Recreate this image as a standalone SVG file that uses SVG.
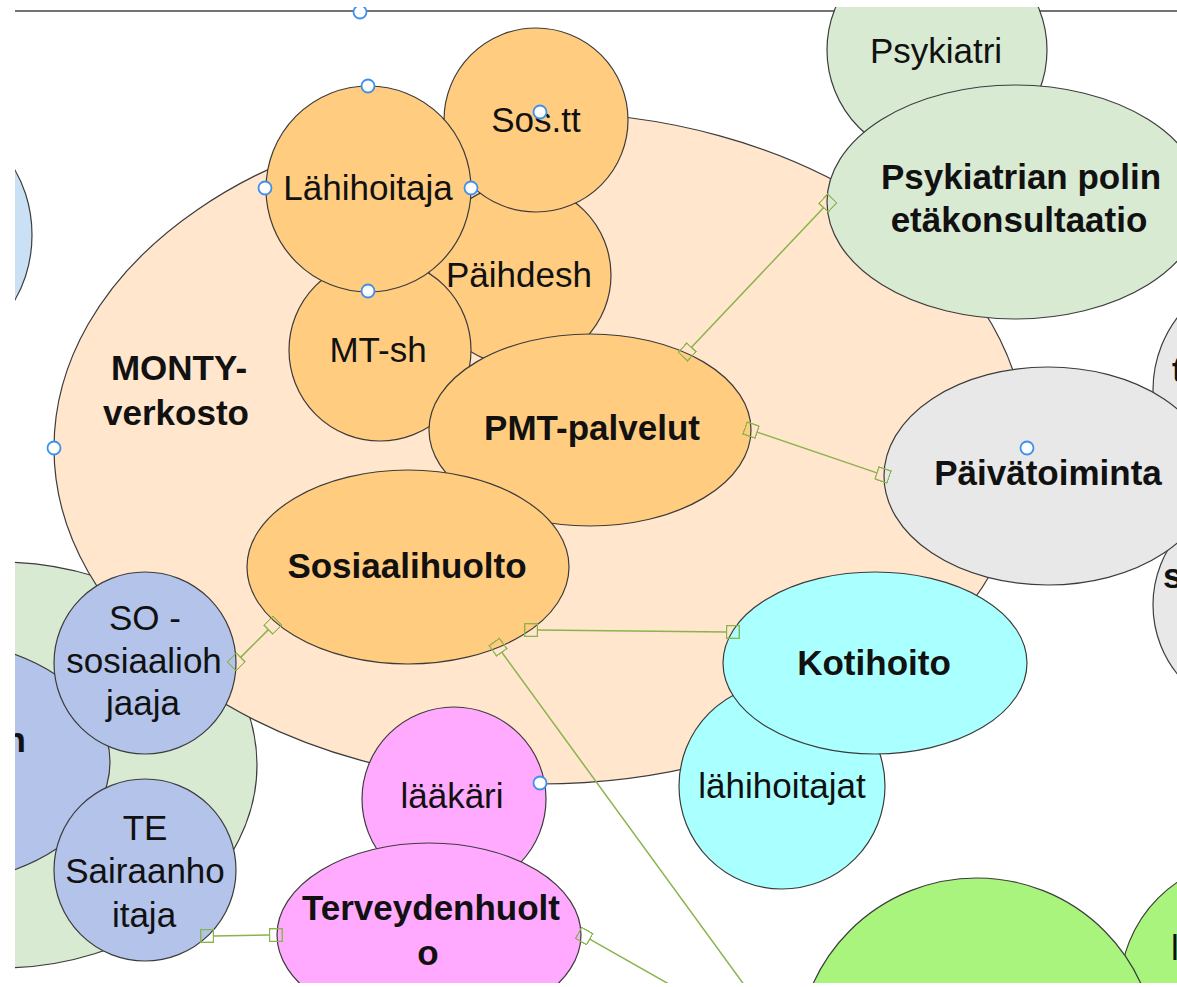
<svg xmlns="http://www.w3.org/2000/svg" width="1177" height="987" viewBox="0 0 1177 987">
<style>
.n{stroke:#3c3c3c;stroke-width:1.2}
.t{font-family:"Liberation Sans",Arial,sans-serif;font-size:35px;fill:#111;text-anchor:middle}
.s{text-anchor:start}
.e{text-anchor:end}
.b{font-weight:bold}
.c{stroke:#8AB34E;stroke-width:1.5;fill:none}
.h{fill:#fff;stroke:#3D8FF0;stroke-width:1.8}
.or{fill:#FFCC80}
.lg{fill:#D9EAD3}
.gr{fill:#E8E8E8}
.bl{fill:#B3C3E9}
.cy{fill:#AAFFFF}
.pk{fill:#FFAAFF}
.bg{fill:#A8F47C}
</style>
<defs>
<clipPath id="clip"><rect x="15" y="7" width="1162" height="976"/></clipPath>
<marker id="sq" viewBox="0 0 14 14" markerWidth="14" markerHeight="14" refX="0.6" refY="7" orient="auto-start-reverse" markerUnits="userSpaceOnUse">
<path d="M0.6,0.6 H13.4 V13.4 H0.6 Z" fill="none" stroke="#8AB34E" stroke-width="1.4"/>
</marker>
</defs>
<g clip-path="url(#clip)">
<line x1="15" y1="11" x2="1177" y2="11" stroke="#444" stroke-width="1.5"/>
<g id="node-lightblue"><ellipse class="n" cx="-60" cy="235" rx="92" ry="112" fill="#C9E0F5"/></g>
<g id="node-green-left"><ellipse class="n lg" cx="0" cy="765" rx="257" ry="203"/></g>
<g id="node-blue-left"><ellipse class="n bl" cx="-70" cy="762" rx="180" ry="122"/><text class="t b e" x="26" y="752">n</text></g>
<g id="node-monty"><ellipse class="n" cx="540" cy="448" rx="486" ry="336" fill="#FFE6CC"/><text class="t b" x="179" y="380">MONTY-</text><text class="t b" x="176" y="425">verkosto</text></g>
<g id="node-psykiatri"><circle class="n lg" cx="937" cy="50" r="110"/><text class="t" x="936" y="63">Psykiatri</text></g>
<g id="node-psykpoli"><ellipse class="n lg" cx="1015" cy="202" rx="188" ry="117"/><text class="t b" x="1021" y="189" font-size="36">Psykiatrian polin</text><text class="t b" x="1019" y="232" font-size="36">etäkonsultaatio</text></g>
<g id="node-t"><circle class="n gr" cx="1273" cy="390" r="120"/><text class="t b s" x="1172" y="382">t</text></g>
<g id="node-s"><circle class="n gr" cx="1263" cy="605" r="110"/><text class="t b s" x="1163" y="588">s</text></g>
<g id="node-paivatoiminta"><ellipse class="n gr" cx="1048" cy="476" rx="164" ry="109"/><text class="t b" x="1048" y="485">Päivätoiminta</text></g>
<g id="node-paihdesh"><circle class="n or" cx="520" cy="275" r="91"/><text class="t" x="519" y="287">Päihdesh</text></g>
<g id="node-sostt"><circle class="n or" cx="536" cy="120" r="92"/><text class="t" x="536" y="132">Sos.tt</text></g>
<g id="node-mtsh"><circle class="n or" cx="380" cy="350" r="91"/><text class="t" x="378" y="362">MT-sh</text></g>
<g id="node-lahihoitaja"><ellipse class="n or" cx="368.5" cy="189" rx="102.5" ry="103"/><text class="t" x="368" y="200">Lähihoitaja</text></g>
<g id="node-pmt"><ellipse class="n or" cx="590" cy="430" rx="161" ry="96"/><text class="t b" x="592" y="440">PMT-palvelut</text></g>
<g id="node-sosiaalihuolto"><ellipse class="n or" cx="408" cy="567" rx="161" ry="97"/><text class="t b" x="407" y="578">Sosiaalihuolto</text></g>
<g id="node-so"><circle class="n bl" cx="145" cy="663" r="91"/><text class="t" x="145" y="630">SO -</text><text class="t" x="144" y="673">sosiaalioh</text><text class="t" x="143" y="715">jaaja</text></g>
<g id="node-te"><circle class="n bl" cx="145" cy="870" r="91"/><text class="t" x="145" y="840">TE</text><text class="t" x="145" y="883">Sairaanho</text><text class="t" x="144" y="927">itaja</text></g>
<g id="node-lahihoitajat"><circle class="n cy" cx="782" cy="786" r="103"/><text class="t" x="782" y="798">lähihoitajat</text></g>
<g id="node-kotihoito"><ellipse class="n cy" cx="875" cy="663" rx="152" ry="91"/><text class="t b" x="874" y="675">Kotihoito</text></g>
<g id="node-laakari"><circle class="n pk" cx="454" cy="799" r="92"/><text class="t" x="452" y="808">lääkäri</text></g>
<g id="node-terveydenhuolto"><ellipse class="n pk" cx="429" cy="935" rx="152" ry="92"/><text class="t b" x="431" y="920">Terveydenhuolt</text><text class="t b" x="428" y="965">o</text></g>
<g id="node-green-right"><circle class="n bg" cx="1250" cy="990" r="130"/><text class="t s" x="1171" y="960">l</text></g>
<g id="node-green-big"><circle class="n bg" cx="977" cy="1058" r="180"/></g>
<g id="connectors">
<path class="c" d="M691.5,347.3 L823.5,207.7" marker-start="url(#sq)" marker-end="url(#sq)"/>
<path class="c" d="M757.1,432.1 L876.9,472.9" marker-start="url(#sq)" marker-end="url(#sq)"/>
<path class="c" d="M537.5,630.1 L726.5,631.9" marker-start="url(#sq)" marker-end="url(#sq)"/>
<path class="c" d="M268.4,629.6 L240.6,657.4" marker-start="url(#sq)" marker-end="url(#sq)"/>
<path class="c" d="M501.8,652.3 L753,997" marker-start="url(#sq)"/>
<path class="c" d="M213.5,935.9 L269.5,935.1" marker-start="url(#sq)" marker-end="url(#sq)"/>
<path class="c" d="M589.7,939.2 L690,996" marker-start="url(#sq)"/>
</g>
<g id="handles">
<circle class="h" cx="360" cy="12" r="6.5"/>
<circle class="h" cx="368" cy="86" r="6.5"/>
<circle class="h" cx="265" cy="188" r="6.5"/>
<circle class="h" cx="471" cy="188" r="6.5"/>
<circle class="h" cx="368" cy="291" r="6.5"/>
<circle class="h" cx="54" cy="448" r="6.5"/>
<circle class="h" cx="540" cy="112" r="6.5"/>
<circle class="h" cx="1027" cy="448" r="6.5"/>
<circle class="h" cx="540" cy="783" r="6.5"/>
</g>
</g>
</svg>
